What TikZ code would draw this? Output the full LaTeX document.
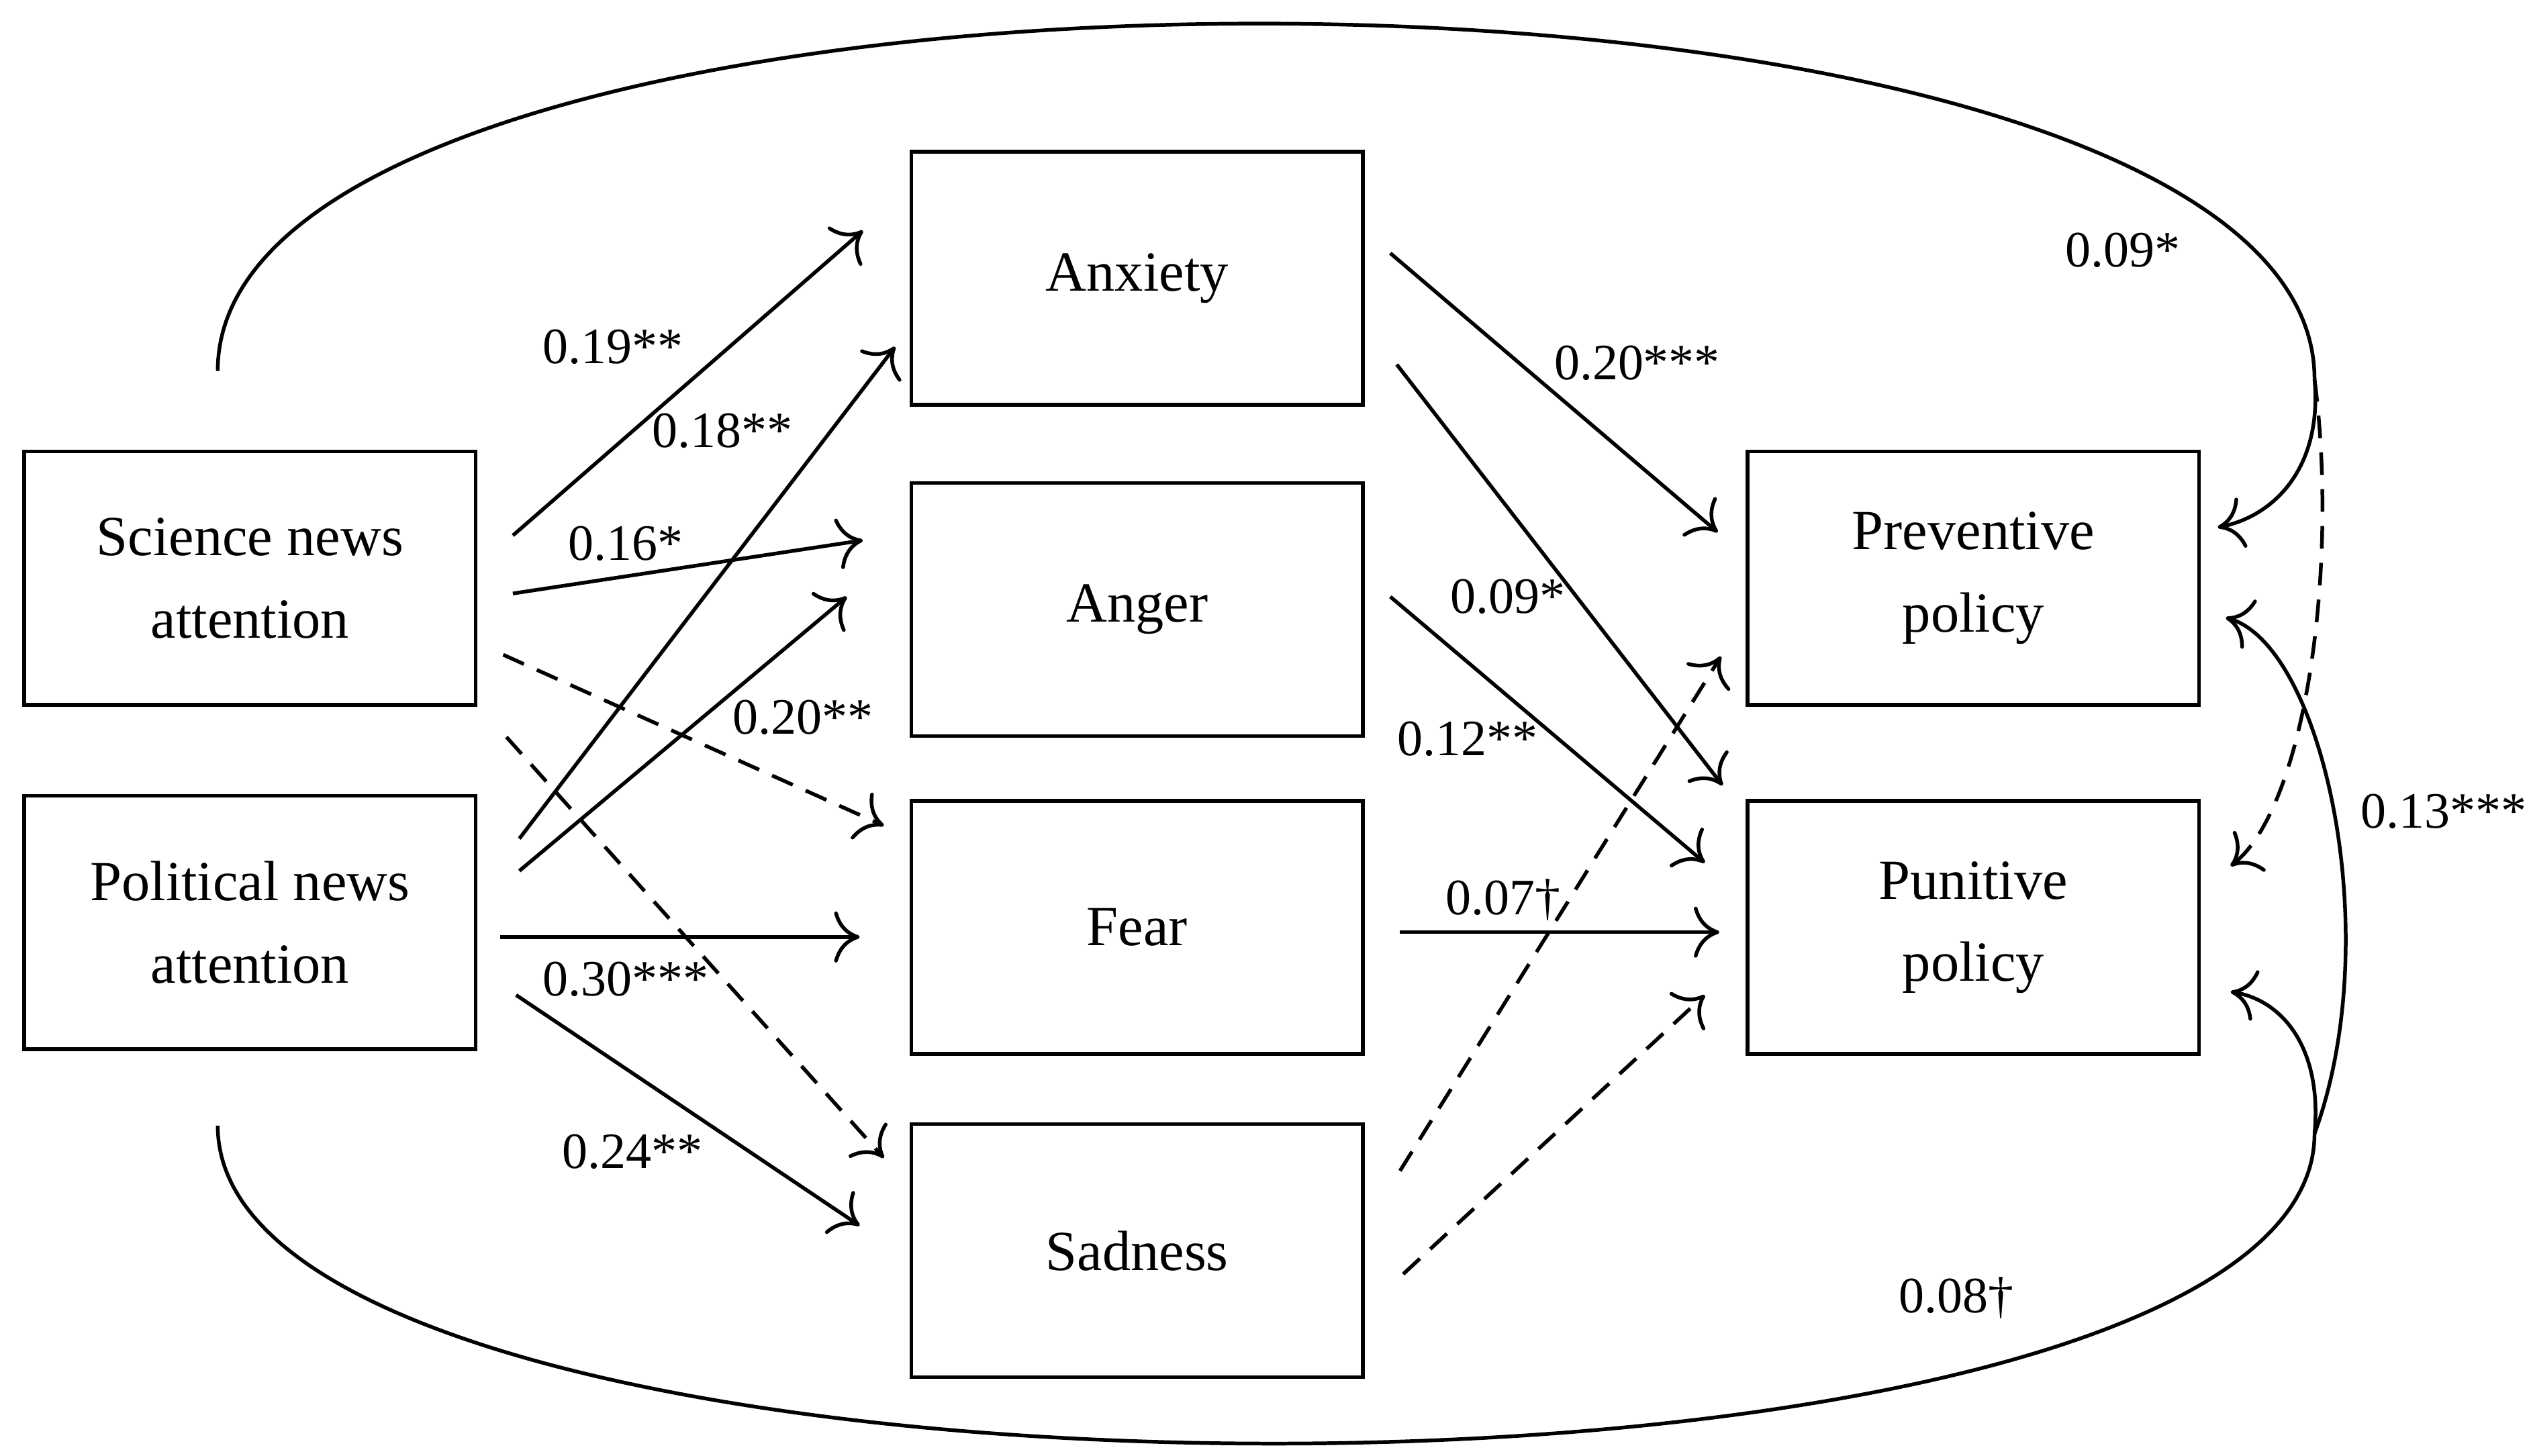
\documentclass[tikz,border=0pt]{standalone}
\usepackage{fontspec}
\setmainfont{Liberation Serif}
\usetikzlibrary{arrows.meta}
\begin{document}
\begin{tikzpicture}[x=0.02cm,y=-0.02cm,
 box/.style={draw,line width=1.3pt,minimum width=5.6cm,minimum height=3.14cm,align=center,font=\fontsize{20}{29}\selectfont,inner sep=0pt},
 ar/.style={line width=1.3pt,-{To[length=9pt,width=18pt]}},
 da/.style={ar,dashed,dash pattern=on 8pt off 5pt},
 lb/.style={font=\fontsize{18}{20}\selectfont}]
\useasboundingbox (0,0) rectangle (1568,902.5);
\node[box] (sci) at (155,358.5) {Science news\\attention};
\node[box] (pol) at (155,572) {Political news\\attention};
\node[box] (anx) at (705,172.5) {Anxiety};
\node[box] (ang) at (705,378) {Anger};
\node[box] (fea) at (705,575) {Fear};
\node[box] (sad) at (705,775.5) {Sadness};
\node[box] (pre) at (1223.5,358.5) {Preventive\\policy};
\node[box] (pun) at (1223.5,575) {Punitive\\policy};
\coordinate (a1) at (318,332); \coordinate (a2) at (535,143);
\draw[ar] (a1) -- (a2);
\coordinate (b1) at (322,520); \coordinate (b2) at (555,215);
\draw[ar] (b1) -- (b2);
\coordinate (c1) at (318,368); \coordinate (c2) at (535,335);
\draw[ar] (c1) -- (c2);
\coordinate (d1) at (322,540); \coordinate (d2) at (525,370);
\draw[ar] (d1) -- (d2);
\coordinate (e1) at (312,406); \coordinate (e2) at (548,512);
\draw[da] (e1) -- (e2);
\coordinate (f1) at (310,581); \coordinate (f2) at (533,581);
\draw[ar] (f1) -- (f2);
\coordinate (g1) at (314,457); \coordinate (g2) at (548,718);
\draw[da] (g1) -- (g2);
\coordinate (h1) at (320,617); \coordinate (h2) at (533,760);
\draw[ar] (h1) -- (h2);
\coordinate (i1) at (862,157); \coordinate (i2) at (1065,330);
\draw[ar] (i1) -- (i2);
\coordinate (j1) at (866,226); \coordinate (j2) at (1068,487);
\draw[ar] (j1) -- (j2);
\coordinate (k1) at (862,370); \coordinate (k2) at (1057,535);
\draw[ar] (k1) -- (k2);
\coordinate (l1) at (868,578); \coordinate (l2) at (1066,578);
\draw[ar] (l1) -- (l2);
\coordinate (m1) at (868,726); \coordinate (m2) at (1067,407);
\draw[da] (m1) -- (m2);
\coordinate (n1) at (870,790); \coordinate (n2) at (1057,617);
\draw[da] (n1) -- (n2);
% covariances
\coordinate (tl) at (135,230); \coordinate (tr) at (1435,235);
\coordinate (bl) at (135,698); \coordinate (br) at (1435,703);
\draw[line width=1.3pt] (tl) .. controls (135,-58) and (1435,-58) .. (tr);
\draw[line width=1.3pt] (bl) .. controls (135,960) and (1435,960) .. (br);
\draw[ar] (tr) .. controls (1440,290) and (1410,320) .. (1375,327);
\draw[da] (tr) .. controls (1450,350) and (1430,500) .. (1383,537);
\draw[ar] (br) .. controls (1440,650) and (1415,620) .. (1383,615);
\draw[ar] (br) .. controls (1480,580) and (1440,400) .. (1380,383);
% labels
\node[lb] at (380,215) {0.19**};
\node[lb] at (448,267) {0.18**};
\node[lb] at (388,337) {0.16*};
\node[lb] at (498,445) {0.20**};
\node[lb] at (388,607) {0.30***};
\node[lb] at (392,714) {0.24**};
\node[lb] at (1015,225) {0.20***};
\node[lb] at (935,370) {0.09*};
\node[lb] at (910,458) {0.12**};
\node[lb] at (932,558) {0.07†};
\node[lb] at (1316,155) {0.09*};
\node[lb] at (1213,805) {0.08†};
\node[lb] at (1515,503) {0.13***};
\end{tikzpicture}
\end{document}
